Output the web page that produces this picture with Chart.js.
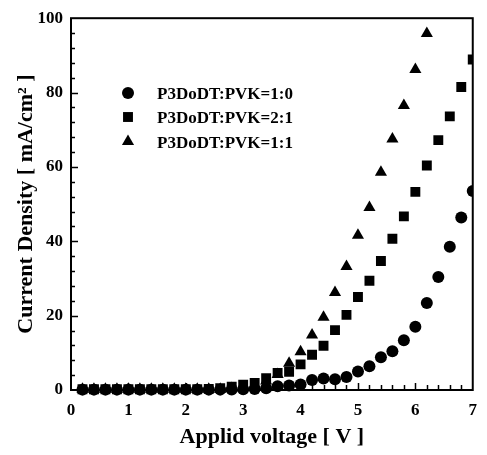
<!DOCTYPE html>
<html>
<head>
<meta charset="utf-8">
<script src="https://cdn.jsdelivr.net/npm/chart.js@4.4.1/dist/chart.umd.min.js"></script>
<style>
  html, body { margin: 0; padding: 0; background: #fff; }
  #wrap { width: 487px; height: 455px; position: relative; }
</style>
</head>
<body>
<div id="wrap"><canvas id="c" width="487" height="455"></canvas></div>
<script>
// ---- data ----
const voltage = [0.2,0.4,0.6,0.8,1.0,1.2,1.4,1.6,1.8,2.0,2.2,2.4,2.6,2.8,3.0,3.2,3.4,3.6,3.8,4.0,
                 4.2,4.4,4.6,4.8,5.0,5.2,5.4,5.6,5.8,6.0,6.2,6.4,6.6,6.8,7.0];
const ratio10 = [0.1,0.1,0.1,0.1,0.1,0.1,0.1,0.1,0.1,0.1,0.1,0.1,0.1,0.15,0.2,0.3,0.5,1.0,1.2,1.5,
                 2.7,3.1,2.9,3.5,5.0,6.4,8.8,10.4,13.4,17.0,23.4,30.4,38.5,46.4,53.5];
const ratio21 = [0.2,0.2,0.2,0.2,0.2,0.2,0.2,0.2,0.2,0.2,0.2,0.3,0.5,0.9,1.4,1.9,3.2,4.6,4.9,6.9,
                 9.5,11.9,16.1,20.2,25.0,29.4,34.7,40.7,46.7,53.3,60.4,67.2,73.6,81.5,88.9];
const ratio11 = [0.2,0.2,0.2,0.2,0.2,0.2,0.2,0.2,0.2,0.2,0.2,0.2,0.2,0.4,0.7,1.3,2.4,4.2,7.2,10.3,
                 14.8,19.6,26.2,33.2,41.6,49.1,58.6,67.5,76.5,86.2,95.9];
const seriesLabels = ["P3DoDT:PVK=1:0", "P3DoDT:PVK=2:1", "P3DoDT:PVK=1:1"];
const xTickValues = [0,1,2,3,4,5,6,7];
const yTickValues = [0,20,40,60,80,100];
const xTitle = "Applid voltage [ V ]";
const yTitle = "Current Density [ mA/cm\u00B2 ]";

const FONT = '"Liberation Serif", "Times New Roman", serif';
const pts = (ys) => ys.map((y, i) => ({ x: voltage[i], y: y }));

const styles = [
  { pointStyle: 'circle', radius: 6 },
  { pointStyle: 'rect', radius: 7 },
  { pointStyle: 'triangle', radius: 7 }
];
const seriesData = [ratio10, ratio21, ratio11];

const datasets = seriesData.map((d, i) => ({
  label: seriesLabels[i],
  data: pts(d),
  pointStyle: styles[i].pointStyle,
  pointRadius: styles[i].radius,
  pointHoverRadius: styles[i].radius,
  backgroundColor: '#000',
  borderColor: '#000',
  borderWidth: 0,
  showLine: false,
  clip: { left: 10, top: 10, right: 0, bottom: 10 }
}));

// frame + inward ticks, drawn through the scales
const framePlugin = {
  id: 'frame',
  beforeDatasetsDraw(chart) {
    const { ctx, chartArea: a, scales: { x, y } } = chart;
    ctx.save();
    ctx.strokeStyle = '#000';
    ctx.lineWidth = 2;
    ctx.strokeRect(a.left, a.top, a.right - a.left, a.bottom - a.top);
    ctx.lineWidth = 1.5;
    ctx.beginPath();
    for (let i = 0; i <= 35; i++) {
      const v = i * 0.2;
      const px = Math.round(x.getPixelForValue(v)) + 0.5;
      const len = (i % 5 === 0) ? 7 : 5;
      if (i === 0 || i === 35) continue;
      ctx.moveTo(px, a.bottom);
      ctx.lineTo(px, a.bottom - len);
    }
    for (let i = 0; i <= 25; i++) {
      const v = i * 4;
      const py = Math.round(y.getPixelForValue(v)) + 0.5;
      const len = (i % 5 === 0) ? 7 : 4;
      if (i === 0 || i === 25) continue;
      ctx.moveTo(a.left, py);
      ctx.lineTo(a.left + len, py);
    }
    ctx.stroke();
    ctx.restore();
  },
  afterDraw(chart) {
    const { ctx } = chart;
    const rows = [93, 117, 141.5];
    ctx.save();
    ctx.fillStyle = '#000';
    ctx.strokeStyle = '#000';
    ctx.font = 'bold 17px ' + FONT;
    ctx.textBaseline = 'middle';
    ctx.textAlign = 'left';
    rows.forEach((yy, i) => {
      Chart.helpers.drawPoint(ctx, { pointStyle: styles[i].pointStyle, radius: styles[i].radius, rotation: 0, borderWidth: 0 }, 128, yy);
      ctx.fillText(seriesLabels[i], 157, yy + 2);
    });
    ctx.restore();
  }
};

new Chart(document.getElementById('c'), {
  type: 'scatter',
  data: { datasets },
  options: {
    responsive: false,
    animation: false,
    devicePixelRatio: 1,
    layout: { padding: { top: 13, right: 4, left: 0, bottom: 0 } },
    plugins: { legend: { display: false }, tooltip: { enabled: false } },
    scales: {
      x: {
        type: 'linear',
        min: 0, max: 7,
        afterFit(s) { s.height = 65; },
        afterBuildTicks(s) { s.ticks = xTickValues.map(v => ({ value: v })); },
        grid: { display: false, drawTicks: false },
        border: { display: false },
        ticks: { color: '#000', padding: 10, maxRotation: 0, font: { family: FONT, size: 17, weight: 'bold' }, callback: v => String(v) },
        title: { display: true, text: xTitle, color: '#000', padding: { top: 0, bottom: 4 }, font: { family: FONT, size: 22, weight: 'bold' } }
      },
      y: {
        type: 'linear',
        min: 0, max: 100,
        afterFit(s) { s.width = 71; },
        afterBuildTicks(s) { s.ticks = yTickValues.map(v => ({ value: v })); },
        grid: { display: false, drawTicks: false },
        border: { display: false },
        ticks: { color: '#000', padding: 8, font: { family: FONT, size: 17, weight: 'bold' }, callback: v => String(v) },
        title: { display: true, text: yTitle, color: '#000', padding: { top: 13, bottom: 0 }, font: { family: FONT, size: 22, weight: 'bold' } }
      }
    }
  },
  plugins: [framePlugin]
});
</script>
</body>
</html>
